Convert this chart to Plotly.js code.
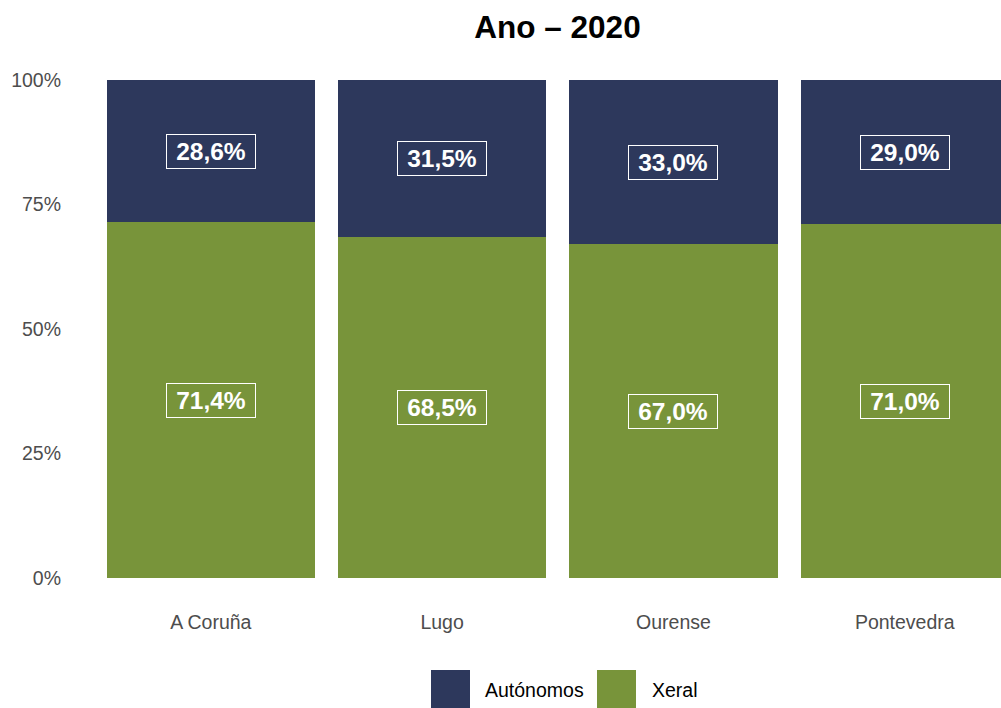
<!DOCTYPE html>
<html>
<head>
<meta charset="utf-8">
<script src="https://cdn.plot.ly/plotly-3.0.1.min.js"></script>
<style>html,body{margin:0;padding:0;background:#fff;}#chart{width:1001px;height:708px;}</style>
</head>
<body>
<div id="chart"></div>
<script>
const categories = ["A Coruña", "Lugo", "Ourense", "Pontevedra"];
const seriesNames = ["Xeral", "Autónomos"];
const xeral = [71.4, 68.5, 67.0, 71.0];
const autonomos = [28.6, 31.5, 33.0, 29.0];
const yTickVals = [0, 25, 50, 75, 100];
const yTickText = ["0%", "25%", "50%", "75%", "100%"];
const titleText = "Ano – 2020";

const colXeral = "#78943A";
const colAut = "#2D385C";
const FONT = 'Liberation Sans, Arial, sans-serif';

const W = 1001, H = 708;
const M = {l: 72, r: 0, t: 80, b: 130};
const pw = W - M.l - M.r, ph = H - M.t - M.b;
const px = v => (v - M.l) / pw;
const py = v => (H - M.b - v) / ph;

const fmt = v => v.toFixed(1).replace('.', ',') + '%';

const traces = [
  {type: 'bar', name: seriesNames[0], x: categories, y: xeral, marker: {color: colXeral}, hoverinfo: 'none'},
  {type: 'bar', name: seriesNames[1], x: categories, y: autonomos, marker: {color: colAut}, hoverinfo: 'none'}
];

const labelStyle = {showarrow: false, font: {family: FONT, size: 24.5, color: '#fff'},
  bordercolor: '#fff', borderwidth: 1, borderpad: 2, width: 84, height: 29};

const annotations = [];
categories.forEach((c, i) => {
  annotations.push(Object.assign({x: c, y: xeral[i] / 2, text: '<b>' + fmt(xeral[i]) + '</b>'}, labelStyle));
  annotations.push(Object.assign({x: c, y: xeral[i] + autonomos[i] / 2, text: '<b>' + fmt(autonomos[i]) + '</b>'}, labelStyle));
});

// legend (custom, larger keys)
const legendItems = [
  {name: seriesNames[1], color: colAut, x0: 431, tx: 483},
  {name: seriesNames[0], color: colXeral, x0: 597, tx: 650}
];
const shapes = [];
legendItems.forEach(it => {
  shapes.push({type: 'rect', xref: 'paper', yref: 'paper', x0: px(it.x0), x1: px(it.x0 + 39), y0: py(709), y1: py(670),
    fillcolor: it.color, line: {width: 0}});
  annotations.push({xref: 'paper', yref: 'paper', x: px(it.tx), y: py(690), xanchor: 'left', yanchor: 'middle',
    text: it.name, showarrow: false, font: {family: FONT, size: 19.5, color: '#000'}});
});

const layout = {
  width: W, height: H,
  margin: M,
  paper_bgcolor: '#fff', plot_bgcolor: '#fff',
  barmode: 'stack', bargap: 0.1,
  showlegend: false,
  title: {text: '<b>' + titleText + '</b>', x: 557.5 / W, xref: 'container', xanchor: 'center',
    y: 1 - 27 / H, yref: 'container', yanchor: 'middle',
    font: {family: FONT, size: 31.5, color: '#000'}},
  xaxis: {range: [-0.6, 3.416], showgrid: false, zeroline: false, showline: false, ticks: '',
    tickfont: {family: FONT, size: 19.5, color: '#4D4D4D'},
    ticklabelstandoff: 30, fixedrange: true},
  yaxis: {range: [0, 100], tickmode: 'array', tickvals: yTickVals, ticktext: yTickText, showgrid: false, zeroline: false,
    showline: false, ticks: '',
    tickfont: {family: FONT, size: 19.5, color: '#4D4D4D'},
    ticklabelstandoff: 10, fixedrange: true},
  annotations: annotations,
  shapes: shapes
};

Plotly.newPlot('chart', traces, layout, {displayModeBar: false, staticPlot: true});
</script>
</body>
</html>
